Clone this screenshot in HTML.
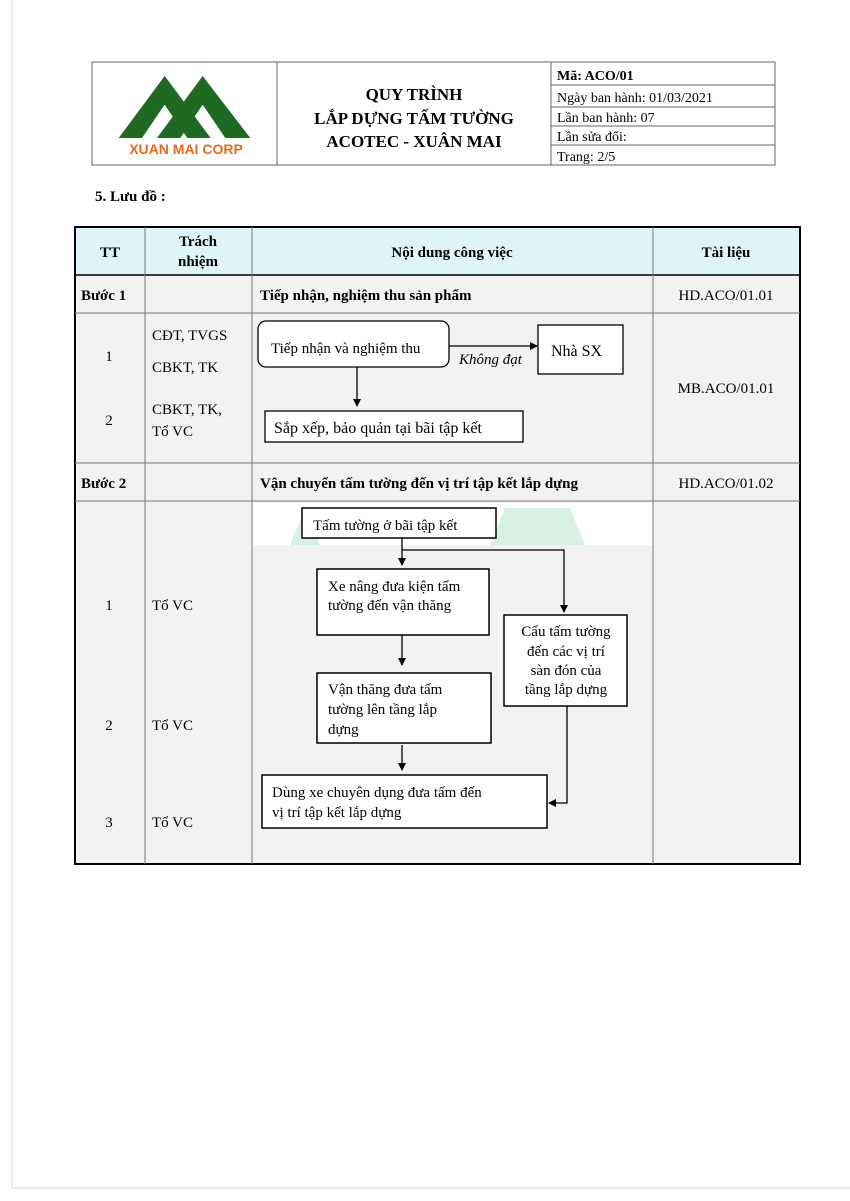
<!DOCTYPE html>
<html><head><meta charset="utf-8"><style>
body{margin:0;background:#fff;}
svg{display:block;font-family:"Liberation Serif",serif;}
</style></head><body>
<svg width="850" height="1201" viewBox="0 0 850 1201" xmlns="http://www.w3.org/2000/svg">
<defs><marker id="a" markerWidth="8" markerHeight="8" refX="7" refY="4" orient="auto" markerUnits="userSpaceOnUse"><path d="M0,0 L8,4 L0,8 z" fill="#000"/></marker></defs>
<line x1="12" y1="0" x2="12" y2="1188" stroke="#d8d8d8"/>
<line x1="12" y1="1188" x2="850" y2="1188" stroke="#d8d8d8"/>
<!-- header -->
<g stroke="#666" fill="none" stroke-width="1">
<rect x="92" y="62" width="683" height="103"/>
<line x1="277" y1="62" x2="277" y2="165"/>
<line x1="551" y1="62" x2="551" y2="165"/>
<line x1="551" y1="85" x2="775" y2="85"/>
<line x1="551" y1="107" x2="775" y2="107"/>
<line x1="551" y1="126" x2="775" y2="126"/>
<line x1="551" y1="145" x2="775" y2="145"/>
</g>
<g transform="translate(92,62) scale(0.3333)">
<polygon points="80,228 218,42 356,228" fill="#1f6a22"/>
<polygon points="150,228 218,128 286,228" fill="#fff"/>
<polygon points="195,228 332,42 475,228" fill="#1f6a22"/>
<polygon points="265,228 332,128 400,228" fill="#fff"/>
<polygon points="218,42 356,228 286,228 218,128" fill="#1f6a22"/>
</g>
<text x="186" y="154" text-anchor="middle" font-family="Liberation Sans,sans-serif" font-weight="bold" font-size="14" fill="#e46c1a">XUAN MAI CORP</text>
<g font-weight="bold" font-size="17" text-anchor="middle">
<text x="414" y="100">QUY TRÌNH</text>
<text x="414" y="124">LẮP DỰNG TẤM TƯỜNG</text>
<text x="414" y="147">ACOTEC - XUÂN MAI</text>
</g>
<g font-size="14">
<text x="557" y="80" font-weight="bold">Mã: ACO/01</text>
<text x="557" y="102">Ngày ban hành: 01/03/2021</text>
<text x="557" y="122">Lần ban hành: 07</text>
<text x="557" y="141">Lần sửa đổi:</text>
<text x="557" y="161">Trang: 2/5</text>
</g>
<text x="95" y="201" font-weight="bold" font-size="15">5.  Lưu đồ :</text>
<!-- main table -->
<rect x="75" y="227" width="725" height="48" fill="#dff4f8"/>
<rect x="75" y="275" width="725" height="589" fill="#f2f2f2"/>
<rect x="253" y="503" width="399" height="42" fill="#fff"/>
<polygon points="290,545 305,508 320,545" fill="#d9f0e4"/>
<polygon points="490,545 505,508 570,508 585,545" fill="#d9f0e4"/>
<g stroke="#000" fill="none">
<rect x="75" y="227" width="725" height="637" stroke-width="2"/>
<line x1="75" y1="275" x2="800" y2="275" stroke-width="1.5"/>
<line x1="75" y1="313" x2="800" y2="313" stroke="#777"/>
<line x1="75" y1="463" x2="800" y2="463" stroke="#777"/>
<line x1="75" y1="501" x2="800" y2="501" stroke="#777"/>
<line x1="145" y1="227" x2="145" y2="864" stroke="#777"/>
<line x1="252" y1="227" x2="252" y2="864" stroke="#777"/>
<line x1="653" y1="227" x2="653" y2="864" stroke="#777"/>
</g>
<g font-size="15" font-weight="bold" text-anchor="middle">
<text x="110" y="257">TT</text>
<text x="198" y="246">Trách</text>
<text x="198" y="266">nhiệm</text>
<text x="452" y="257">Nội dung công việc</text>
<text x="726" y="257">Tài liệu</text>
</g>
<g font-size="15" font-weight="bold">
<text x="81" y="300">Bước 1</text>
<text x="260" y="300">Tiếp nhận, nghiệm thu sản phẩm</text>
<text x="81" y="488">Bước 2</text>
<text x="260" y="488">Vận chuyển tấm tường đến vị trí tập kết lắp dựng</text>
</g>
<g font-size="15">
<text x="726" y="300" text-anchor="middle">HD.ACO/01.01</text>
<text x="726" y="393" text-anchor="middle">MB.ACO/01.01</text>
<text x="726" y="488" text-anchor="middle">HD.ACO/01.02</text>
<text x="109" y="361" text-anchor="middle">1</text>
<text x="109" y="425" text-anchor="middle">2</text>
<text x="152" y="340">CĐT, TVGS</text>
<text x="152" y="372">CBKT, TK</text>
<text x="152" y="414">CBKT, TK,</text>
<text x="152" y="436">Tổ VC</text>
<text x="109" y="610" text-anchor="middle">1</text>
<text x="109" y="730" text-anchor="middle">2</text>
<text x="109" y="827" text-anchor="middle">3</text>
<text x="152" y="610">Tổ VC</text>
<text x="152" y="730">Tổ VC</text>
<text x="152" y="827">Tổ VC</text>
</g>
<!-- flow 1 -->
<g stroke="#000" stroke-width="1.3" fill="#fff">
<rect x="258" y="321" width="191" height="46" rx="8"/>
<rect x="538" y="325" width="85" height="49"/>
<rect x="265" y="411" width="258" height="31"/>
</g>
<g stroke="#000" stroke-width="1.3" fill="none" marker-end="url(#a)">
<line x1="449" y1="346" x2="537" y2="346"/>
<line x1="357" y1="367" x2="357" y2="406"/>
</g>
<g font-size="15">
<text x="271" y="353">Tiếp nhận và nghiệm thu</text>
<text x="551" y="356" font-size="16">Nhà SX</text>
<text x="459" y="364" font-style="italic">Không đạt</text>
<text x="274" y="433" font-size="16">Sắp xếp, bảo quản tại bãi tập kết</text>
</g>
<!-- flow 2 -->
<g stroke="#000" stroke-width="1.5" fill="#fff">
<rect x="302" y="508" width="194" height="30"/>
<rect x="317" y="569" width="172" height="66"/>
<rect x="317" y="673" width="174" height="70"/>
<rect x="262" y="775" width="285" height="53"/>
<rect x="504" y="615" width="123" height="91"/>
</g>
<g stroke="#000" stroke-width="1.3" fill="none">
<line x1="402" y1="538" x2="402" y2="565" marker-end="url(#a)"/>
<polyline points="402,550 564,550 564,612" marker-end="url(#a)"/>
<line x1="402" y1="635" x2="402" y2="665" marker-end="url(#a)"/>
<line x1="402" y1="745" x2="402" y2="770" marker-end="url(#a)"/>
<polyline points="567,706 567,803 549,803" marker-end="url(#a)"/>
</g>
<g font-size="15">
<text x="313" y="530">Tấm tường ở bãi tập kết</text>
<text x="328" y="591">Xe nâng đưa kiện tấm</text>
<text x="328" y="610">tường đến vận thăng</text>
<text x="328" y="694">Vận thăng đưa tấm</text>
<text x="328" y="714">tường lên tầng lắp</text>
<text x="328" y="734">dựng</text>
<text x="272" y="797">Dùng xe chuyên dụng đưa tấm đến</text>
<text x="272" y="817">vị trí tập kết lắp dựng</text>
<g text-anchor="middle">
<text x="566" y="636">Cẩu tấm tường</text>
<text x="566" y="656">đến các vị trí</text>
<text x="566" y="675">sàn đón của</text>
<text x="566" y="694">tầng lắp dựng</text>
</g>
</g>
</svg>
</body></html>
